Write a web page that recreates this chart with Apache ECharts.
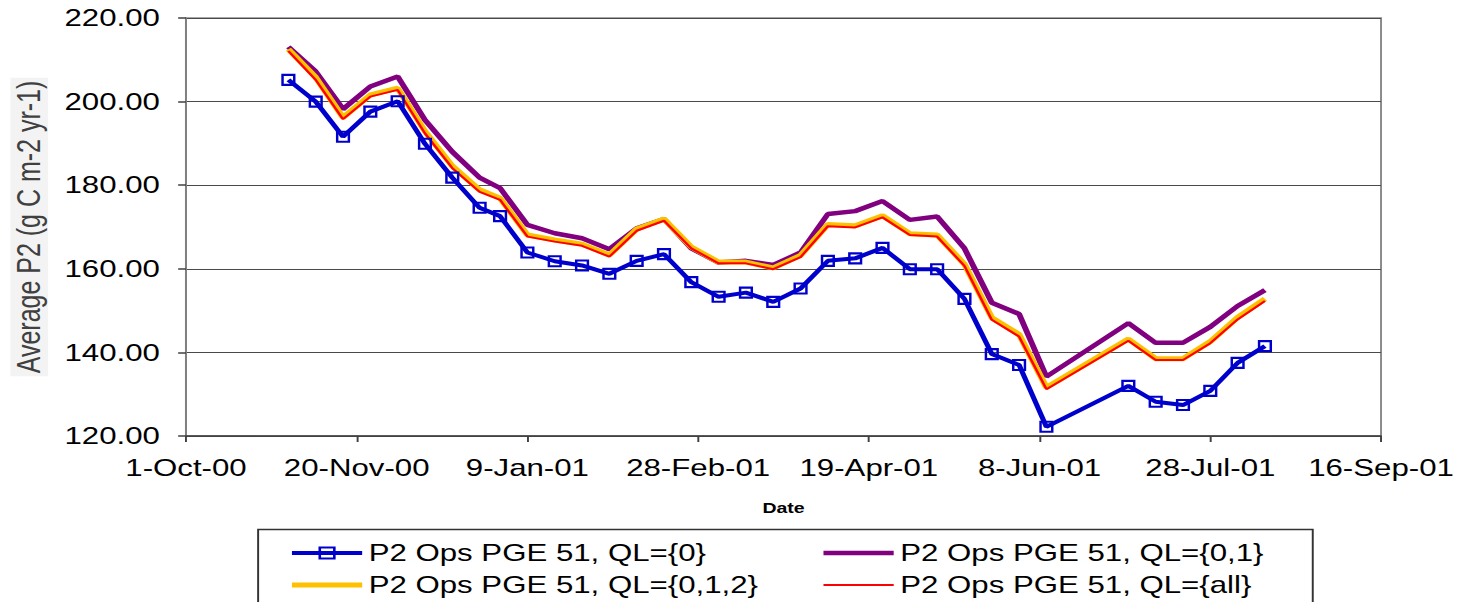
<!DOCTYPE html>
<html>
<head>
<meta charset="utf-8">
<style>
  html, body { margin: 0; padding: 0; background: #fff; overflow: hidden; }
  /* the reference is a horizontally stretched picture, so draw narrow and stretch */
  #chart { width: 1122px; height: 602px; transform: scaleX(1.3004); transform-origin: 0 0; }
</style>
<script src="https://cdn.jsdelivr.net/npm/echarts@6/dist/echarts.min.js"></script>
</head>
<body>
<div id="chart"></div>
<script>
// 8-day composite dates
var dates = ['2000-10-31', '2000-11-08', '2000-11-16', '2000-11-24', '2000-12-02', '2000-12-10',
  '2000-12-18', '2000-12-26', '2001-01-01', '2001-01-09', '2001-01-17', '2001-01-25',
  '2001-02-02', '2001-02-10', '2001-02-18', '2001-02-26', '2001-03-06', '2001-03-14',
  '2001-03-22', '2001-03-30', '2001-04-07', '2001-04-15', '2001-04-23', '2001-05-01',
  '2001-05-09', '2001-05-17', '2001-05-25', '2001-06-02', '2001-06-10', '2001-07-04',
  '2001-07-12', '2001-07-20', '2001-07-28', '2001-08-05', '2001-08-13'];

var ql0 = [205.2, 200.0, 191.6, 197.6, 200.1, 189.9, 181.8, 174.6, 172.6, 163.9, 161.8, 160.8,
  158.8, 161.9, 163.5, 156.8, 153.3, 154.3, 152.1, 155.3, 161.9, 162.5, 165.0, 159.9,
  159.9, 152.8, 139.6, 137.0, 122.2, 132.0, 128.2, 127.4, 130.8, 137.5, 141.5];
var ql01 = [213.1, 207.2, 198.2, 203.6, 206.0, 195.6, 188.0, 181.8, 179.3, 170.5, 168.5, 167.3,
  164.7, 169.7, 171.9, 164.9, 161.5, 161.9, 160.9, 163.9, 173.1, 173.8, 176.2, 171.7,
  172.5, 164.9, 151.9, 149.2, 134.2, 147.0, 142.3, 142.3, 146.1, 151.1, 154.9];
var ql012 = [212.5, 205.8, 196.2, 201.6, 203.2, 192.9, 184.6, 178.9, 176.9, 168.1, 166.9, 165.9,
  163.3, 169.5, 171.9, 165.2, 161.6, 161.6, 160.2, 163.2, 170.6, 170.3, 172.7, 168.4,
  168.1, 161.1, 148.3, 144.3, 131.6, 143.2, 138.5, 138.5, 142.6, 148.4, 152.8];
var qlAll = [212.1, 205.2, 195.8, 201.2, 202.8, 192.4, 184.1, 178.4, 176.5, 167.7, 166.5, 165.5,
  162.9, 169.1, 171.5, 164.9, 161.3, 161.3, 159.9, 162.8, 170.2, 169.9, 172.3, 168.1,
  167.7, 160.7, 147.8, 143.8, 131.2, 142.8, 138.2, 138.2, 142.2, 147.9, 152.3];

var names = ['P2 Ops PGE 51, QL={0}', 'P2 Ops PGE 51, QL={0,1}',
  'P2 Ops PGE 51, QL={0,1,2}', 'P2 Ops PGE 51, QL={all}'];

var MONTHS = ['Jan', 'Feb', 'Mar', 'Apr', 'May', 'Jun', 'Jul', 'Aug', 'Sep', 'Oct', 'Nov', 'Dec'];
var T0 = Date.UTC(2000, 9, 1);   // x axis origin, 1-Oct-00
var DAY = 86400000;

function dayOf(s) {
  var p = s.split('-').map(Number);
  return (Date.UTC(p[0], p[1] - 1, p[2]) - T0) / DAY;
}
function dateLabel(v) {
  var d = new Date(T0 + v * DAY);
  return d.getUTCDate() + '-' + MONTHS[d.getUTCMonth()] + '-' + String(d.getUTCFullYear()).slice(2);
}
function pairs(vals) {
  return dates.map(function (s, i) { return [dayOf(s), vals[i]]; });
}

var FONT = 'Liberation Sans, Arial, sans-serif';
var legendText = { fontFamily: FONT, fontSize: 24, color: '#000' };
// line-only legend icons: hide the symbol part
var noDot = { color: 'rgba(0,0,0,0)', borderWidth: 0, opacity: 0 };

var myChart = echarts.init(document.getElementById('chart'), null, { renderer: 'svg' });
myChart.setOption({
  animation: false,
  grid: {
    left: 143, right: 60, top: 18, bottom: 166,
    show: true, borderColor: '#8a8a8a', borderWidth: 1.5
  },
  legend: [
    {
      orient: 'vertical', left: 217, top: 536, itemWidth: 54, itemHeight: 14, itemGap: 8,
      textStyle: legendText,
      data: [
        { name: names[0], lineStyle: { width: 4 } },
        { name: names[2], lineStyle: { width: 5 }, itemStyle: noDot }
      ]
    },
    {
      orient: 'vertical', left: 626, top: 536, itemWidth: 54, itemHeight: 14, itemGap: 8,
      textStyle: legendText,
      data: [
        { name: names[1], lineStyle: { width: 4.5 }, itemStyle: noDot },
        { name: names[3], lineStyle: { width: 2 }, itemStyle: noDot }
      ]
    }
  ],
  graphic: [{
    type: 'rect', left: 196, top: 527, z: -1,
    shape: { width: 811, height: 100 },
    style: { fill: 'none', stroke: '#333', lineWidth: 1.5 }
  }],
  xAxis: {
    type: 'value', min: 0, max: 350, interval: 50,
    name: 'Date', nameLocation: 'middle', nameGap: 64,
    nameTextStyle: { fontFamily: FONT, fontSize: 15, fontWeight: 'bold', color: '#000' },
    axisLine: { lineStyle: { color: '#404040', width: 1.5 } },
    axisTick: { show: true, length: 6, lineStyle: { color: '#404040', width: 1.5 } },
    splitLine: { show: false },
    axisLabel: {
      margin: 20, fontFamily: FONT, fontSize: 24, color: '#000',
      showMinLabel: true, showMaxLabel: true, formatter: dateLabel
    }
  },
  yAxis: {
    type: 'value', min: 120, max: 220, interval: 20,
    name: 'Average P2 (g C m-2 yr-1)', nameLocation: 'middle', nameRotate: 90, nameGap: 106,
    nameTextStyle: {
      fontFamily: FONT, fontSize: 25, color: '#404040',
      backgroundColor: '#f3f3f3', padding: [2, 3]
    },
    axisLine: { show: true, lineStyle: { color: '#808080', width: 1.5 } },
    axisTick: { show: true, length: 6, lineStyle: { color: '#404040', width: 1.5 } },
    splitLine: { show: true, lineStyle: { color: '#4a4a4a', width: 1 } },
    axisLabel: {
      margin: 20, fontFamily: FONT, fontSize: 24, color: '#000',
      formatter: function (v) { return v.toFixed(2); }
    }
  },
  series: [
    {
      name: names[1], type: 'line', data: pairs(ql01), symbol: 'none', z: 2,
      lineStyle: { color: '#800080', width: 4.5 }, itemStyle: { color: '#800080' }
    },
    {
      name: names[2], type: 'line', data: pairs(ql012), symbol: 'none', z: 3,
      lineStyle: { color: '#ffc000', width: 5 }, itemStyle: { color: '#ffc000' }
    },
    {
      name: names[3], type: 'line', data: pairs(qlAll), symbol: 'none', z: 4,
      lineStyle: { color: '#ff0000', width: 2 }, itemStyle: { color: '#ff0000' }
    },
    {
      name: names[0], type: 'line', data: pairs(ql0), z: 5,
      symbol: 'rect', symbolSize: [9, 10], showSymbol: true,
      lineStyle: { color: '#0000cc', width: 4 },
      itemStyle: { color: 'rgba(255,255,255,0)', borderColor: '#0000cc', borderWidth: 2 }
    }
  ]
});
window.addEventListener('resize', function () { myChart.resize(); });
</script>
</body>
</html>
